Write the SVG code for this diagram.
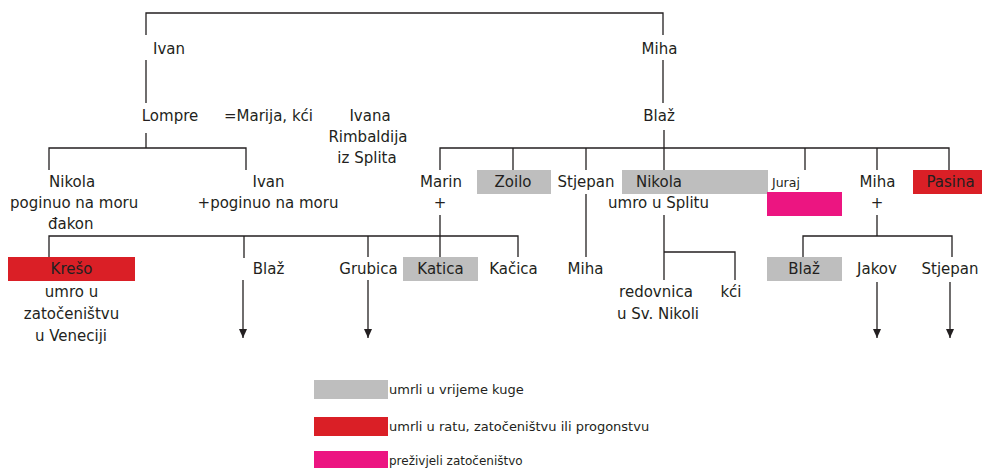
<svg xmlns="http://www.w3.org/2000/svg" width="982" height="468" viewBox="0 0 982 468">
<style>
text{font-family:"DejaVu Sans","Liberation Sans",sans-serif;font-size:15px;fill:#231F20}
.m{text-anchor:middle}
.sm{font-size:12.5px}
.lg{font-size:13px}
.lg2{font-size:12px}
.ln{stroke:#231F20;stroke-width:1.3;fill:none}
.grey{fill:#BEBEBE}
.red{fill:#DA1F26}
.pink{fill:#EC1581}
</style>
<defs>
<marker id="arr" viewBox="0 0 8 10" refX="4" refY="10" markerWidth="8" markerHeight="10" markerUnits="userSpaceOnUse" orient="auto-start-reverse">
<path d="M0,0 L8,0 L4,10 Z" fill="#231F20" transform="rotate(-90 4 5)"/>
</marker>
<marker id="ah" viewBox="0 0 8 9" refX="4" refY="9" markerWidth="8" markerHeight="9" markerUnits="userSpaceOnUse" orient="0">
<path d="M0,0 L8,0 L4,9 Z" fill="#231F20"/>
</marker>
</defs>
<rect width="982" height="468" fill="#fff"/>
<g id="connectors" class="ln">
<path d="M146,35 V13 H663 V35"/>
<path d="M146,60 V103"/>
<path d="M663,60 V103"/>
<path d="M146,133 V148"/>
<path d="M49,170 V148 H246 V170"/>
<path d="M664,130 V170"/>
<path d="M440,170 V148 H949 V170"/>
<path d="M513,148 V170"/>
<path d="M586,148 V170"/>
<path d="M805,148 V170"/>
<path d="M877,148 V170"/>
<path d="M49,257 V236 H518 V257"/>
<path d="M244,236 V258"/>
<path d="M368,236 V257"/>
<path d="M440,215 V257"/>
<path d="M586,194 V257"/>
<path d="M664,215 V280"/>
<path d="M664,252 H735 V280"/>
<path d="M877,215 V236"/>
<path d="M803,257 V236 H952 V257"/>
<path d="M243,280 V338" marker-end="url(#ah)"/>
<path d="M368,280 V338" marker-end="url(#ah)"/>
<path d="M877,282 V338" marker-end="url(#ah)"/>
<path d="M950,282 V338" marker-end="url(#ah)"/>
</g>
<g id="n-ivan-top"><text class="m" x="169" y="54">Ivan</text></g>
<g id="n-miha-top"><text class="m" x="659.5" y="54">Miha</text></g>
<g id="n-lompre"><text class="m" x="170" y="121">Lompre</text></g>
<g id="n-marija"><text class="m" x="268.5" y="121">=Marija, kći</text></g>
<g id="n-ivana"><text class="m" x="370" y="121">Ivana</text><text class="m" x="368" y="142">Rimbaldija</text><text class="m" x="367" y="163">iz Splita</text></g>
<g id="n-blaz-top"><text class="m" x="659" y="121">Blaž</text></g>
<g id="n-nikola-l"><text x="49" y="187">Nikola</text><text x="10" y="208">poginuo na moru</text><text x="48" y="229">đakon</text></g>
<g id="n-ivan-2"><text class="m" x="268.5" y="187">Ivan</text><text class="m" x="268" y="208">+poginuo na moru</text></g>
<g id="n-marin"><text class="m" x="441" y="187">Marin</text><text class="m" x="440" y="208">+</text></g>
<g id="n-zoilo"><rect class="grey" x="477" y="170" width="74" height="24"/><text class="m" x="513" y="187">Zoilo</text></g>
<g id="n-stjepan"><text class="m" x="586" y="187">Stjepan</text></g>
<g id="n-nikola-r"><rect class="grey" x="622" y="170" width="146" height="24"/><text class="m" x="659" y="187">Nikola</text><text class="m" x="658.5" y="208">umro u Splitu</text></g>
<g id="n-juraj"><text class="sm" x="772" y="187">Juraj</text><rect class="pink" x="767" y="192" width="75" height="24"/></g>
<g id="n-miha-2"><text class="m" x="877.5" y="187">Miha</text><text class="m" x="877" y="208">+</text></g>
<g id="n-pasina"><rect class="red" x="913" y="170" width="69" height="24"/><text class="m" x="950.5" y="187">Pasina</text></g>
<g id="n-kreso"><rect class="red" x="8" y="257" width="127" height="24"/><text class="m" x="71.5" y="274">Krešo</text><text class="m" x="71.5" y="297">umro u</text><text class="m" x="71.5" y="319">zatočeništvu</text><text class="m" x="71" y="341">u Veneciji</text></g>
<g id="n-blaz-l"><text class="m" x="268.5" y="274">Blaž</text></g>
<g id="n-grubica"><text class="m" x="368.5" y="274">Grubica</text></g>
<g id="n-katica"><rect class="grey" x="403" y="257" width="75" height="24"/><text class="m" x="440.5" y="274">Katica</text></g>
<g id="n-kacica"><text class="m" x="513.5" y="274">Kačica</text></g>
<g id="n-miha-3"><text class="m" x="585.5" y="274">Miha</text></g>
<g id="n-redovnica"><text class="m" x="656" y="297">redovnica</text><text class="m" x="658" y="319">u Sv. Nikoli</text></g>
<g id="n-kci"><text class="m" x="731" y="297">kći</text></g>
<g id="n-blaz-r"><rect class="grey" x="767" y="257" width="75" height="24"/><text class="m" x="804" y="274">Blaž</text></g>
<g id="n-jakov"><text class="m" x="877" y="274">Jakov</text></g>
<g id="n-stjepan-2"><text class="m" x="950" y="274">Stjepan</text></g>
<g id="legend">
<rect class="grey" x="314" y="380" width="74" height="19"/><text class="lg" x="389" y="394">umrli u vrijeme kuge</text>
<rect class="red" x="314" y="417" width="74" height="19"/><text class="lg" x="389" y="431">umrli u ratu, zatočeništvu ili progonstvu</text>
<rect class="pink" x="314" y="451" width="74" height="17"/><text class="lg2" x="389" y="465">preživjeli zatočeništvo</text>
</g>
</svg>
